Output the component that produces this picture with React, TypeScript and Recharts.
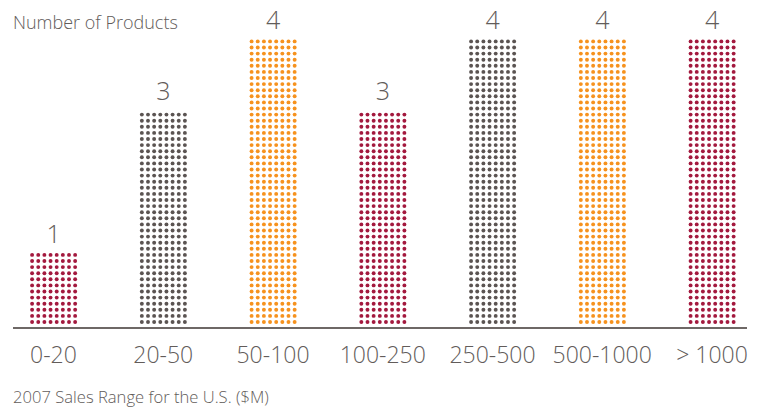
import { Bar, BarChart, LabelList, XAxis, YAxis } from "recharts";

const categories = ["0-20", "20-50", "50-100", "100-250", "250-500", "500-1000", "> 1000"];
const productCounts = [1, 3, 4, 3, 4, 4, 4];
const barColors = ["#a3193e", "#5b5452", "#f6921e", "#a3193e", "#5b5452", "#f6921e", "#a3193e"];

const data = categories.map((label, i) => ({ idx: i, label, count: productCounts[i] }));

const TEXT = "#625c5a";
const FONT = "'Open Sans', sans-serif";

function DotBar(props: any) {
  const { x, y, width, height, index } = props;
  const color = barColors[index];
  const cx = x + width / 2;
  const bottom = y + height;
  const dots = [];
  for (let r = 0; bottom - 6 - r * 6.1 >= y - 2.5; r++) {
    const cy = bottom - 6 - r * 6.1;
    for (let c = 0; c < 8; c++) {
      dots.push(<circle key={`${r}-${c}`} cx={cx + (c - 3.5) * 6.15} cy={cy} r={1.95} fill={color} />);
    }
  }
  return <g>{dots}</g>;
}

export default function App() {
  return (
    <div style={{ position: "relative", width: 757, height: 410, fontFamily: FONT }}>
      <style>{`body{margin:0}`}</style>
      <BarChart width={757} height={410} data={data} margin={{ top: 43, right: 10, left: 13, bottom: 0 }}>
        <XAxis
          type="number"
          dataKey="idx"
          domain={[-0.369, 6.319]}
          ticks={[0, 1, 2, 3, 4, 5, 6]}
          tickFormatter={(i: number) => categories[i]}
          height={82}
          axisLine={{ stroke: "#6e6866", strokeWidth: 2 }}
          tickLine={false}
          tickSize={0}
          tickMargin={19}
          tick={{ fill: TEXT, fontSize: 23, fontWeight: 300, fontFamily: FONT }}
          allowDataOverflow
        />
        <YAxis hide domain={[0, 4]} />
        <Bar dataKey="count" barSize={48} shape={<DotBar />} isAnimationActive={false}>
          <LabelList
            dataKey="count"
            position="top"
            offset={14}
            fill={TEXT}
            fontSize={25}
            fontWeight={300}
            fontFamily={FONT}
          />
        </Bar>
      </BarChart>
      <div style={{ position: "absolute", left: 13, top: 13, fontSize: 18, lineHeight: 1, fontWeight: 300, color: TEXT }}>
        Number of Products
      </div>
      <div style={{ position: "absolute", left: 13, top: 389, fontSize: 16.6, lineHeight: 1, fontWeight: 300, color: TEXT }}>
        2007 Sales Range for the U.S. ($M)
      </div>
    </div>
  );
}
